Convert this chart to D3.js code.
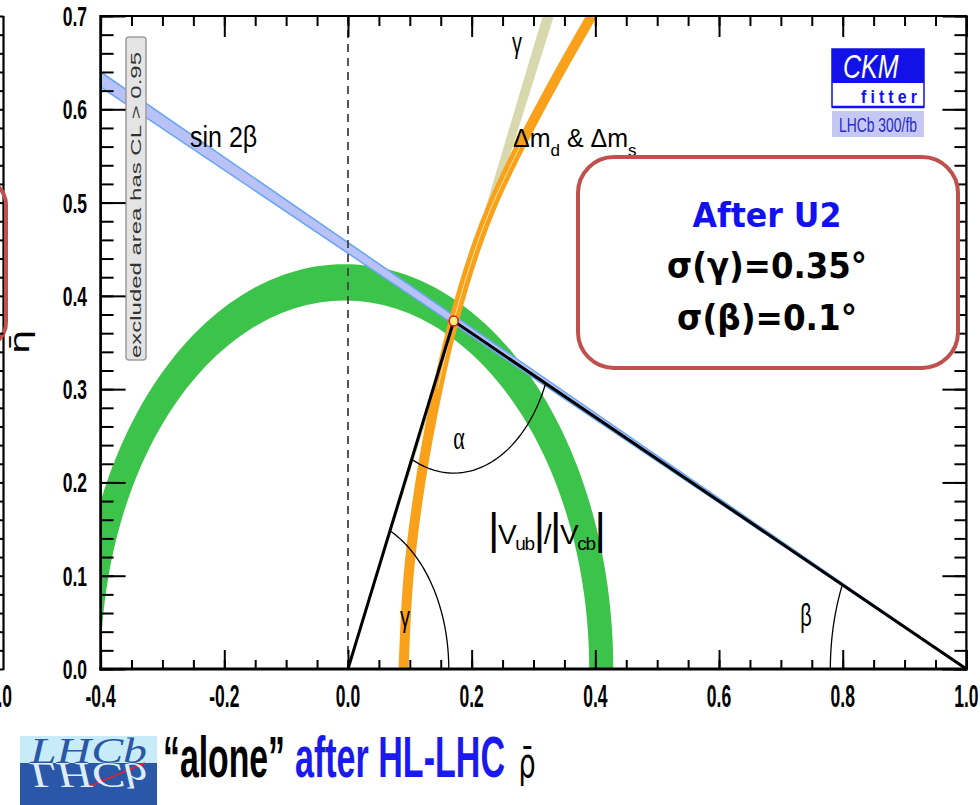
<!DOCTYPE html>
<html>
<head>
<meta charset="utf-8">
<script src="https://cdn.jsdelivr.net/npm/d3@7"></script>
<style>
  body { margin: 0; background: #fff; }
  svg { display: block; font-family: "Liberation Sans", Arial, sans-serif; }
  text { white-space: pre; }
</style>
</head>
<body>
<div id="chart"></div>
<script>
// axis ticks and labels
const xTickValues = [-0.4, -0.2, 0.0, 0.2, 0.4, 0.6, 0.8, 1.0];
const xTickLabels = ["-0.4", "-0.2", "0.0", "0.2", "0.4", "0.6", "0.8", "1.0"];
const yTickValues = [0.0, 0.1, 0.2, 0.3, 0.4, 0.5, 0.6, 0.7];
const yTickLabels = ["0.0", "0.1", "0.2", "0.3", "0.4", "0.5", "0.6", "0.7"];

// unitarity triangle apex (rho, eta)
const apex = [0.171, 0.373];

// |Vub|/|Vcb| ring : centre and inner / outer radius
const vubCentre = [-0.005, 0];
const vubRadii = [0.395, 0.434];

// sin 2beta band : two lines through (1,0), eta read at rho = -0.4
const sin2bEtaAtLeft = [0.624, 0.640];

// gamma wedge from the origin, rho read at eta = 0.7
const gammaRhoAtTop = [0.315, 0.333];

// dm_d & dm_s band centre line
const dmEta = [0.0, 0.1, 0.2, 0.3, 0.373, 0.45, 0.5, 0.56, 0.63, 0.7];
const dmRho = [0.090, 0.098, 0.117, 0.145, 0.171, 0.206, 0.235, 0.278, 0.334, 0.394];

// angle arcs of the triangle
const arcNames = ["γ", "α", "β"];
const arcRadii = [0.163, 0.163, 0.22];

const width = 980, height = 805;

const svg = d3.select("#chart").append("svg")
  .attr("width", width)
  .attr("height", height);

const x = d3.scaleLinear().domain([-0.4, 1.0]).range([100.6, 966.4]);
const y = d3.scaleLinear().domain([0, 0.7]).range([669, 16]);

svg.append("clipPath").attr("id", "plot-clip")
  .append("rect")
  .attr("x", x(-0.4)).attr("y", y(0.7))
  .attr("width", x(1) - x(-0.4)).attr("height", y(0) - y(0.7));

const plot = svg.append("g").attr("clip-path", "url(#plot-clip)");

// points on a circle in data space (an ellipse in pixels)
function arcPoints(c, r, a0, a1, n = 120) {
  return d3.range(n + 1).map(i => {
    const a = a0 + (a1 - a0) * i / n;
    return [c[0] + r * Math.cos(a), c[1] + r * Math.sin(a)];
  });
}
const line = d3.line().x(d => x(d[0])).y(d => y(d[1]));
const smooth = d3.line().x(d => x(d[0])).y(d => y(d[1])).curve(d3.curveCatmullRom);

// |Vub|/|Vcb| ring
const ring = arcPoints(vubCentre, vubRadii[1], 0, Math.PI)
  .concat(arcPoints(vubCentre, vubRadii[0], Math.PI, 0));
plot.append("path")
  .attr("d", line(ring) + "Z")
  .attr("fill", "#3cc44a");

// sin 2beta band
plot.append("path")
  .attr("d", line([[1, 0], [-0.4, sin2bEtaAtLeft[0]], [-0.4, sin2bEtaAtLeft[1]]]) + "Z")
  .attr("fill", "#b9c2f6")
  .attr("stroke", "#6aa6f4")
  .attr("stroke-width", 1.6);

// gamma wedge
plot.append("path")
  .attr("d", line([[0, 0], [gammaRhoAtTop[0], 0.7], [gammaRhoAtTop[1], 0.7]]) + "Z")
  .attr("fill", "#d8d8ae");

// dm band
const dmPoints = d3.zip(dmRho, dmEta);
plot.append("path")
  .attr("d", smooth(dmPoints))
  .attr("fill", "none")
  .attr("stroke", "#f9a11b")
  .attr("stroke-width", 10);
plot.append("path")
  .attr("d", smooth(dmPoints.filter(d => d[1] > 0.25 && d[1] < 0.6)))
  .attr("fill", "none")
  .attr("stroke", "#fbe6a0")
  .attr("stroke-width", 1);

// rho = 0 dashed line
plot.append("line")
  .attr("x1", x(0)).attr("x2", x(0))
  .attr("y1", y(0.7)).attr("y2", y(0))
  .attr("stroke", "#444")
  .attr("stroke-width", 1.8)
  .attr("stroke-dasharray", "8,6");

// excluded area box
svg.append("rect")
  .attr("x", 126).attr("y", 37).attr("width", 20).attr("height", 323)
  .attr("rx", 3)
  .attr("fill", "#e4e4e4").attr("stroke", "#9c9c9c").attr("stroke-width", 1.5);
svg.append("text")
  .attr("transform", "translate(141,205) rotate(-90)")
  .attr("text-anchor", "middle")
  .attr("font-size", 15)
  .attr("fill", "#333")
  .attr("textLength", 306)
  .attr("lengthAdjust", "spacingAndGlyphs")
  .text("excluded area has CL > 0.95");

// unitarity triangle
plot.append("path")
  .attr("d", line([[0, 0], apex, [1, 0]]))
  .attr("fill", "none")
  .attr("stroke", "#000")
  .attr("stroke-width", 3)
  .attr("stroke-linejoin", "round");

// angle arcs
const toOrigin = Math.atan2(-apex[1], -apex[0]);
const toOne = Math.atan2(-apex[1], 1 - apex[0]);
const gammaAngle = Math.atan2(apex[1], apex[0]);
const arcDefs = [
  { c: [0, 0], r: arcRadii[0], a0: 0, a1: gammaAngle },
  { c: apex, r: arcRadii[1], a0: toOrigin, a1: toOne },
  { c: [1, 0], r: arcRadii[2], a0: Math.PI + toOne, a1: Math.PI }
];
plot.selectAll(".angle")
  .data(arcDefs)
  .enter().append("path")
  .attr("class", "angle")
  .attr("d", d => line(arcPoints(d.c, d.r, d.a0, d.a1, 60)))
  .attr("fill", "none")
  .attr("stroke", "#000")
  .attr("stroke-width", 1.3);

// apex marker
svg.append("ellipse")
  .attr("cx", x(apex[0])).attr("cy", y(apex[1]))
  .attr("rx", 4.5).attr("ry", 5)
  .attr("fill", "#fff27a").attr("stroke", "#e0141e").attr("stroke-width", 1.6);

// frame
const frame = svg.append("g").attr("stroke", "#000").attr("fill", "none");
frame.append("line").attr("x1", x(-0.4)).attr("x2", x(-0.4)).attr("y1", y(0.7) - 1).attr("y2", y(0) + 1.5).attr("stroke-width", 2.7);
frame.append("line").attr("x1", x(1)).attr("x2", x(1)).attr("y1", y(0.7) - 1).attr("y2", y(0) + 1.5).attr("stroke-width", 2.3);
frame.append("line").attr("x1", x(-0.4)).attr("x2", x(1)).attr("y1", y(0.7)).attr("y2", y(0.7)).attr("stroke-width", 2);
frame.append("line").attr("x1", x(-0.4) - 1.3).attr("x2", x(1) + 1.2).attr("y1", y(0)).attr("y2", y(0)).attr("stroke-width", 3);

// ticks
const xMinor = d3.range(-8, 21).map(i => i * 0.05);
const yMinor = d3.range(0, 36).map(i => i * 0.02);
function ticks(axis, tx, ty) {
  svg.append("g")
    .attr("transform", `translate(${tx},${ty})`)
    .call(axis)
    .call(g => g.select(".domain").remove())
    .call(g => g.selectAll("line").attr("stroke", "#000").attr("stroke-width", 2));
}
ticks(d3.axisBottom(x).tickValues(xMinor).tickSize(-9).tickFormat(""), 0, y(0));
ticks(d3.axisBottom(x).tickValues(xTickValues).tickSize(-19).tickFormat(""), 0, y(0));
ticks(d3.axisTop(x).tickValues(xMinor).tickSize(-10).tickFormat(""), 0, y(0.7));
ticks(d3.axisTop(x).tickValues(xTickValues).tickSize(-21).tickFormat(""), 0, y(0.7));
ticks(d3.axisLeft(y).tickValues(yMinor).tickSize(-13).tickFormat(""), x(-0.4), 0);
ticks(d3.axisLeft(y).tickValues(yTickValues).tickSize(-25).tickFormat(""), x(-0.4), 0);
ticks(d3.axisRight(y).tickValues(yMinor).tickSize(-12).tickFormat(""), x(1), 0);
ticks(d3.axisRight(y).tickValues(yTickValues).tickSize(-24).tickFormat(""), x(1), 0);

// tick labels (bold, stretched vertically like the picture)
svg.append("g").selectAll("text")
  .data(xTickValues)
  .enter().append("text")
  .attr("transform", d => `translate(${x(d)},707) scale(1,1.75)`)
  .attr("text-anchor", "middle")
  .attr("font-size", 17.5)
  .attr("font-weight", "bold")
  .text((d, i) => xTickLabels[i]);
svg.append("g").selectAll("text")
  .data(yTickValues)
  .enter().append("text")
  .attr("transform", d => `translate(87,${y(d) + 10}) scale(1,1.6)`)
  .attr("text-anchor", "end")
  .attr("font-size", 17.5)
  .attr("font-weight", "bold")
  .text((d, i) => yTickLabels[i]);

// pieces of the neighbouring plot cut at the left edge
const cut = svg.append("g");
cut.append("line").attr("x1", 3.5).attr("x2", 3.5).attr("y1", y(0.7)).attr("y2", y(0) + 1)
  .attr("stroke", "#000").attr("stroke-width", 2.2);
ticks(d3.axisLeft(y).tickValues(yMinor).tickSize(12).tickFormat(""), 3.5, 0);
cut.append("text")
  .attr("transform", "translate(12,707) scale(1,1.75)")
  .attr("text-anchor", "end").attr("font-size", 17.5).attr("font-weight", "bold")
  .text("1.0");
cut.append("rect")
  .attr("x", -300).attr("y", 179).attr("width", 306).attr("height", 169)
  .attr("rx", 26)
  .attr("fill", "none").attr("stroke", "#c0504d").attr("stroke-width", 4);

// curve labels
function label(xp, yp, sx, sy, opts) {
  const t = svg.append("text")
    .attr("transform", `translate(${xp},${yp}) scale(${sx},${sy})${opts.rot ? ` rotate(${opts.rot})` : ""}`)
    .attr("font-size", opts.size)
    .attr("text-anchor", opts.anchor || "start")
    .attr("fill", opts.fill || "#000");
  if (opts.family) t.attr("font-family", opts.family);
  if (opts.weight) t.attr("font-weight", opts.weight);
  if (opts.text) t.text(opts.text);
  return t;
}

label(190, 147, 1, 1.15, { size: 25, text: "sin 2β" });

const dm = label(513, 147, 1, 1, { size: 25 });
dm.append("tspan").text("Δm");
dm.append("tspan").attr("font-size", 17).attr("dy", 9).text("d");
dm.append("tspan").attr("dy", -9).text(" & Δm");
dm.append("tspan").attr("font-size", 17).attr("dy", 9).text("s");

label(517, 53, 1, 1.5, { size: 20, anchor: "middle", text: "γ" });
label(459, 449, 1, 1.5, { size: 22, anchor: "middle", family: "'Liberation Serif', serif", text: arcNames[1] });
label(405, 627, 1, 1.5, { size: 20, anchor: "middle", text: arcNames[0] });
label(806, 626, 1, 1.55, { size: 20, anchor: "middle", text: arcNames[2] });

const vub = label(488, 544, 1, 1, { size: 28 });
vub.attr("textLength", 118).attr("lengthAdjust", "spacing");
vub.append("tspan").attr("font-size", 44).text("|");
vub.append("tspan").text("V");
vub.append("tspan").attr("font-size", 19).attr("dy", 6).text("ub");
vub.append("tspan").attr("font-size", 44).attr("dy", -6).text("|");
vub.append("tspan").text("/");
vub.append("tspan").attr("font-size", 44).text("|");
vub.append("tspan").text("V");
vub.append("tspan").attr("font-size", 19).attr("dy", 6).text("cb");
vub.append("tspan").attr("font-size", 44).attr("dy", -6).text("|");

// axis titles
label(29, 342, 1, 1.5, { size: 26, rot: -90, anchor: "middle", family: "'DejaVu Sans', sans-serif", text: "\u03B7\u0304" });
label(527, 777, 1, 1.5, { size: 27, anchor: "middle", family: "'DejaVu Sans', sans-serif", text: "\u03C1\u0304" });

// CKMfitter logo
const logo = svg.append("g");
logo.append("rect").attr("x", 832).attr("y", 49).attr("width", 92).attr("height", 58)
  .attr("fill", "#fff").attr("stroke", "#1212e8").attr("stroke-width", 1.5);
logo.append("rect").attr("x", 832).attr("y", 49).attr("width", 92).attr("height", 34).attr("fill", "#1212e8");
logo.append("line").attr("x1", 832).attr("x2", 924).attr("y1", 107).attr("y2", 107)
  .attr("stroke", "#1212e8").attr("stroke-width", 2.5);
logo.append("rect").attr("x", 832).attr("y", 111).attr("width", 92).attr("height", 26).attr("fill", "#c6c8f4");
label(843, 78, 1, 1.3, { size: 25, fill: "#fff", text: "CKM" }).attr("font-style", "italic");
label(861, 103, 1, 1.2, { size: 16, fill: "#1212e8", weight: "bold", text: "fitter" })
  .attr("textLength", 56).attr("lengthAdjust", "spacing");
label(839, 132, 1, 1.5, { size: 14, fill: "#2a2acc", text: "LHCb 300/fb" })
  .attr("textLength", 78).attr("lengthAdjust", "spacingAndGlyphs");

// red annotation box
svg.append("rect")
  .attr("x", 578).attr("y", 157).attr("width", 380).attr("height", 211)
  .attr("rx", 36)
  .attr("fill", "#fff").attr("stroke", "#c0504d").attr("stroke-width", 4);
const boxFont = "'DejaVu Sans', sans-serif";
label(767, 227, 1, 1, { size: 34, anchor: "middle", fill: "#1010f0", weight: "bold", family: boxFont, text: "After U2" })
  .attr("textLength", 149).attr("lengthAdjust", "spacingAndGlyphs");
label(767, 278, 1, 1, { size: 36, anchor: "middle", weight: "bold", family: boxFont, text: "σ(γ)=0.35°" })
  .attr("textLength", 200).attr("lengthAdjust", "spacingAndGlyphs");
label(767, 330, 1, 1, { size: 36, anchor: "middle", weight: "bold", family: boxFont, text: "σ(β)=0.1°" })
  .attr("textLength", 180).attr("lengthAdjust", "spacingAndGlyphs");

// LHCb logo
const lhcb = svg.append("g");
lhcb.append("rect").attr("x", 20).attr("y", 736).attr("width", 137).attr("height", 69).attr("fill", "#2b57a9");
lhcb.append("rect").attr("x", 20).attr("y", 736).attr("width", 137).attr("height", 27).attr("fill", "#c7ebf8");
label(30, 763, 1, 0.9, { size: 40, fill: "#2b57a9", family: "'Liberation Serif', serif", text: "LHCb" })
  .attr("font-style", "italic").attr("textLength", 117).attr("lengthAdjust", "spacingAndGlyphs");
label(30, 763, 1, -0.9, { size: 40, fill: "#dcedf6", family: "'Liberation Serif', serif", text: "LHCb" })
  .attr("font-style", "italic").attr("textLength", 117).attr("lengthAdjust", "spacingAndGlyphs");
lhcb.append("line").attr("x1", 88).attr("y1", 787).attr("x2", 145).attr("y2", 763)
  .attr("stroke", "#e8202a").attr("stroke-width", 1.8);

// bottom caption
const narrow = "'Liberation Sans Narrow', 'Arial Narrow', 'Liberation Sans', sans-serif";
label(163, 777, 1, 1.4, { size: 41, weight: "bold", family: narrow, text: "“alone”" })
  .attr("textLength", 122).attr("lengthAdjust", "spacingAndGlyphs");
label(295, 777, 1, 1.4, { size: 41, weight: "bold", family: narrow, fill: "#1a1af0", text: "after HL-LHC" })
  .attr("textLength", 210).attr("lengthAdjust", "spacingAndGlyphs");
</script>
</body>
</html>
